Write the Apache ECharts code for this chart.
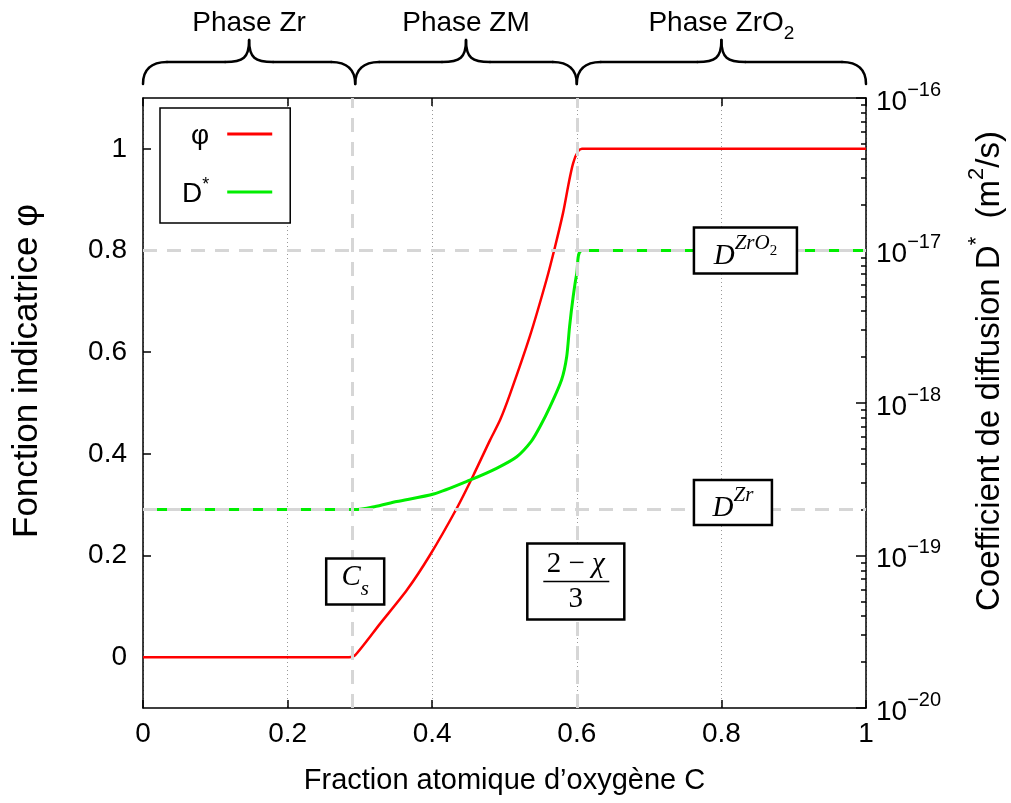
<!DOCTYPE html>
<html><head><meta charset="utf-8">
<script src="https://cdn.jsdelivr.net/npm/echarts@6/dist/echarts.min.js"></script>
<style>html,body{margin:0;padding:0;background:#fff}#c{width:1011px;height:803px}</style>
</head><body><div id="c"></div>
<script>
// ---- data ----
const phiX = [0, 0.285, 0.2935, 0.328, 0.365, 0.397, 0.434, 0.457, 0.480, 0.494, 0.508, 0.535, 0.558, 0.570, 0.581, 0.595, 0.607, 1.0];
const phiY = [0, 0, 0.004, 0.066, 0.132, 0.201, 0.293, 0.358, 0.427, 0.467, 0.519, 0.631, 0.742, 0.808, 0.874, 0.972, 1.0, 1.0];
const dX = [0, 0.2935, 0.32, 0.351, 0.402, 0.452, 0.489, 0.517, 0.537, 0.549, 0.563, 0.579, 0.586, 0.590, 0.595, 0.600, 0.607, 1.0];
const dY = [2e-19, 2e-19, 2.09e-19, 2.26e-19, 2.53e-19, 3.12e-19, 3.73e-19, 4.44e-19, 5.6e-19, 6.98e-19, 9.46e-19, 1.42e-18, 2.01e-18, 3.17e-18, 4.99e-18, 7.1e-18, 1e-17, 1e-17];
const xTicks = [0, 0.2, 0.4, 0.6, 0.8, 1];
const phiTicks = [0, 0.2, 0.4, 0.6, 0.8, 1];
const dDecades = [1e-20, 1e-19, 1e-18, 1e-17, 1e-16];
const phaseNames = ['Phase Zr', 'Phase ZM', 'Phase ZrO'];
const phaseBounds = [0, 0.2935, 0.6, 1];
const cS = 0.2935;
const cM = 0.6;
const dZr = 2e-19;
const dZrO2 = 1e-17;
const seriesNames = ['φ', 'D*'];

// ---- helpers ----
const FONT = 'Liberation Sans';
const SERIF = 'Liberation Serif';
const minorTicks = [];
dDecades.slice(0, -1).forEach(d => { for (let k = 2; k <= 9; k++) minorTicks.push(k * d); });
const axisLine = { color: '#000', width: 1.5 };
const REF = { color: '#d6d6d6', type: [14, 10], width: 3 };
const labelRich = {
  n: { fontSize: 28, color: '#000', fontFamily: FONT, lineHeight: 36, verticalAlign: 'bottom' },
  s: { fontSize: 20, color: '#000', fontFamily: FONT, verticalAlign: 'top' }
};
const nameRich = {
  n: { fontSize: 33, color: '#000', fontFamily: FONT, lineHeight: 40, verticalAlign: 'bottom' },
  s: { fontSize: 22, color: '#000', fontFamily: FONT, verticalAlign: 'top' }
};

const chart = echarts.init(document.getElementById('c'), null, { renderer: 'canvas' });
const option = {
  animation: false,
  backgroundColor: '#fff',
  textStyle: { fontFamily: FONT },
  grid: { left: 143, right: 145, top: 98, bottom: 95, containLabel: false, outerBoundsMode: 'none' },
  legend: {
    orient: 'vertical', left: 160, top: 108, align: 'right',
    padding: [14, 18, 15, 22], itemGap: 26, itemWidth: 45, itemHeight: 3, icon: 'rect',
    borderColor: '#000', borderWidth: 1.5, backgroundColor: '#fff',
    data: seriesNames,
    formatter: n => n === 'φ' ? '{t|φ}{g|}' : '{t|D}{s|*}{g|}',
    textStyle: {
      rich: {
        t: { fontSize: 28, color: '#000', fontFamily: FONT, lineHeight: 32, verticalAlign: 'bottom' },
        s: { fontSize: 18, color: '#000', fontFamily: FONT, verticalAlign: 'top' },
        g: { width: 13 }
      }
    }
  },
  xAxis: [
    {
      type: 'value', min: 0, max: 1, interval: 0.2, position: 'bottom',
      axisLine: { show: true, onZero: false, lineStyle: axisLine },
      axisTick: { show: true, inside: true, length: 8, lineStyle: axisLine, customValues: xTicks },
      axisLabel: { fontSize: 28, color: '#000', margin: 12, customValues: xTicks, formatter: v => String(+(+v).toFixed(1)) },
      splitLine: { show: true, lineStyle: { color: '#999', type: [1, 3], width: 1 } },
      name: 'Fraction atomique d’oxygène C', nameLocation: 'middle', nameGap: 58,
      nameTextStyle: { fontSize: 29, color: '#000' }
    },
    {
      type: 'value', min: 0, max: 1, interval: 0.2, position: 'top',
      axisLine: { show: true, onZero: false, lineStyle: axisLine },
      axisTick: { show: true, inside: true, length: 8, lineStyle: axisLine },
      axisLabel: { show: false }, splitLine: { show: false }
    }
  ],
  yAxis: [
    {
      type: 'value', min: -0.1, max: 1.1, position: 'left',
      axisLine: { show: true, onZero: false, lineStyle: axisLine },
      axisTick: { show: true, inside: true, length: 8, lineStyle: axisLine, customValues: phiTicks },
      axisLabel: { fontSize: 28, color: '#000', margin: 16, customValues: phiTicks, formatter: v => String(+(+v).toFixed(1)) },
      splitLine: { show: false },
      name: 'Fonction indicatrice φ', nameLocation: 'middle', nameGap: 98, nameRotate: 90,
      nameTextStyle: { fontSize: 35, color: '#000', padding: [0, 0, 0, 64] }
    },
    {
      type: 'log', logBase: 10, min: 1e-20, max: 1e-16, position: 'right',
      axisLine: { show: true, onZero: false, lineStyle: axisLine },
      axisTick: { show: true, inside: true, length: 10, lineStyle: axisLine, customValues: dDecades },
      axisLabel: {
        margin: 10, customValues: dDecades,
        formatter: v => '{n|10}{s|−' + (-Math.round(Math.log10(v))) + '}',
        rich: labelRich
      },
      splitLine: { show: false },
      name: '{n|Coefficient de diffusion D}{s|*}{n|  (m}{s|2}{n|/s)}',
      nameLocation: 'middle', nameGap: 100, nameRotate: 90,
      nameTextStyle: { rich: nameRich, padding: [0, 0, 0, 64] }
    },
    {
      // minor log ticks, drawn along the right border
      type: 'log', logBase: 10, min: 1e-20, max: 1e-16, position: 'left', offset: -723,
      axisLine: { show: false },
      axisTick: { show: true, inside: false, length: 5, lineStyle: axisLine, customValues: minorTicks },
      axisLabel: { show: false }, splitLine: { show: false }
    }
  ],
  series: [
    {
      name: seriesNames[0], type: 'line', xAxisIndex: 0, yAxisIndex: 0,
      data: phiX.map((x, i) => [x, phiY[i]]),
      showSymbol: false, symbol: 'none', color: '#ff0000', smooth: 0.25,
      lineStyle: { color: '#ff0000', width: 2.5 },
      markLine: {
        silent: true, symbol: 'none', label: { show: false }, lineStyle: REF,
        data: [{ xAxis: cS }, { xAxis: cM }]
      }
    },
    {
      name: seriesNames[1], type: 'line', xAxisIndex: 0, yAxisIndex: 1,
      data: dX.map((x, i) => [x, dY[i]]),
      showSymbol: false, symbol: 'none', color: '#00ee00', smooth: 0.25,
      lineStyle: { color: '#00ee00', width: 3 }
    },
    {
      name: 'D ZrO2 ref', type: 'line', xAxisIndex: 0, yAxisIndex: 1, z: 4, silent: true,
      data: [[0, dZrO2], [1, dZrO2]], showSymbol: false, symbol: 'none',
      lineStyle: REF
    },
    {
      name: 'D Zr ref', type: 'line', xAxisIndex: 0, yAxisIndex: 1, z: 4, silent: true,
      data: [[0, dZr], [1, dZr]], showSymbol: false, symbol: 'none',
      lineStyle: REF
    }
  ]
};
chart.setOption(option);

// ---- annotations positioned through the axes ----
const P = (x, y) => chart.convertToPixel({ seriesIndex: 0 }, [x, y]);
const PD = (x, d) => chart.convertToPixel({ seriesIndex: 1 }, [x, d]);
const gTop = P(0, 1.1)[1];
const graphics = [];
const stroke = { fill: null, stroke: '#000', lineWidth: 2.5, lineCap: 'round' };

// braces + phase labels
for (let i = 0; i < 3; i++) {
  const xa = P(phaseBounds[i], 0)[0], xb = P(phaseBounds[i + 1], 0)[0];
  const m = (xa + xb) / 2, yE = gTop - 14, yH = gTop - 36, yP = gTop - 58, r = 24;
  graphics.push({ type: 'bezierCurve', z: 50, shape: { x1: xa, y1: yE, cpx1: xa, cpy1: yH + 8, cpx2: xa + 8, cpy2: yH, x2: xa + r, y2: yH }, style: stroke });
  graphics.push({ type: 'line', z: 50, shape: { x1: xa + r, y1: yH, x2: m - r, y2: yH }, style: stroke });
  graphics.push({ type: 'bezierCurve', z: 50, shape: { x1: m - r, y1: yH, cpx1: m - 6, cpy1: yH, cpx2: m, cpy2: yH - 4, x2: m, y2: yP }, style: stroke });
  graphics.push({ type: 'bezierCurve', z: 50, shape: { x1: m, y1: yP, cpx1: m, cpy1: yH - 4, cpx2: m + 6, cpy2: yH, x2: m + r, y2: yH }, style: stroke });
  graphics.push({ type: 'line', z: 50, shape: { x1: m + r, y1: yH, x2: xb - r, y2: yH }, style: stroke });
  graphics.push({ type: 'bezierCurve', z: 50, shape: { x1: xb - r, y1: yH, cpx1: xb - 8, cpy1: yH, cpx2: xb, cpy2: yH + 8, x2: xb, y2: yE }, style: stroke });
  graphics.push({
    type: 'text', z: 50, x: m, y: gTop - 72,
    style: {
      text: '{n|' + phaseNames[i] + '}' + (i === 2 ? '{s|2}' : ''),
      align: 'center', verticalAlign: 'middle',
      rich: {
        n: { fontSize: 28, fontFamily: FONT, fill: '#000', verticalAlign: 'top', padding: [0, 0, 6, 0] },
        s: { fontSize: 19, fontFamily: FONT, fill: '#000', verticalAlign: 'bottom' }
      }
    }
  });
}

function box(cx, cy, w, h, children) {
  return {
    type: 'group', x: cx - w / 2, y: cy - h / 2, z: 60,
    children: [{ type: 'rect', z: 60, shape: { x: 0, y: 0, width: w, height: h }, style: { fill: '#fff', stroke: '#000', lineWidth: 2.5 } }]
      .concat(children.map(c => Object.assign({ z: 61 }, c)))
  };
}
const mathRich = {
  i: { fontSize: 29, fontFamily: SERIF, fontStyle: 'italic', fill: '#000' },
  r: { fontSize: 29, fontFamily: SERIF, fill: '#000' }
};
// C_s box
const pCs = P(cS, 0.149);
graphics.push(box(pCs[0], pCs[1], 58, 46, [{
  type: 'text', x: 29, y: 23,
  style: {
    text: '{i|C}{b|s}', align: 'center', verticalAlign: 'middle',
    rich: {
      i: { fontSize: 29, fontFamily: SERIF, fontStyle: 'italic', fill: '#000', verticalAlign: 'top', padding: [0, 0, 8, 0] },
      b: { fontSize: 21, fontFamily: SERIF, fontStyle: 'italic', fill: '#000', verticalAlign: 'bottom' }
    }
  }
}]));
// (2 - chi)/3 box
const pM = P(cM, 0.149);
graphics.push(box(pM[0] - 1, pM[1], 97, 76, [
  { type: 'text', x: 48.5, y: 21, style: { text: '{r|2 − }{i|χ}', align: 'center', verticalAlign: 'middle', rich: mathRich } },
  { type: 'line', shape: { x1: 16, y1: 38, x2: 82, y2: 38 }, style: { stroke: '#000', lineWidth: 1.5 } },
  { type: 'text', x: 48.5, y: 56, style: { text: '{r|3}', align: 'center', verticalAlign: 'middle', rich: mathRich } }
]));
// D^{ZrO2} box
const pO = PD(0.762, dZrO2);
graphics.push(box(pO[0] + 51.5, pO[1], 103, 46, [{
  type: 'text', x: 51.5, y: 24,
  style: {
    text: '{d|D}{s|ZrO}{u|2}', align: 'center', verticalAlign: 'middle',
    rich: {
      d: { fontSize: 29, fontFamily: SERIF, fontStyle: 'italic', fill: '#000', verticalAlign: 'bottom', padding: [9, 0, 0, 0] },
      s: { fontSize: 21, fontFamily: SERIF, fontStyle: 'italic', fill: '#000', verticalAlign: 'top' },
      u: { fontSize: 15, fontFamily: SERIF, fill: '#000', verticalAlign: 'top', padding: [11, 0, 0, 0] }
    }
  }
}]));
// D^{Zr} box
const pZ = PD(0.762, dZr);
graphics.push(box(pZ[0] + 39, pZ[1] - 7, 78, 45, [{
  type: 'text', x: 39, y: 24,
  style: {
    text: '{d|D}{s|Zr}', align: 'center', verticalAlign: 'middle',
    rich: {
      d: { fontSize: 29, fontFamily: SERIF, fontStyle: 'italic', fill: '#000', verticalAlign: 'bottom', padding: [9, 0, 0, 0] },
      s: { fontSize: 21, fontFamily: SERIF, fontStyle: 'italic', fill: '#000', verticalAlign: 'top' }
    }
  }
}]));

chart.setOption({ graphic: graphics });
</script>
</body></html>
